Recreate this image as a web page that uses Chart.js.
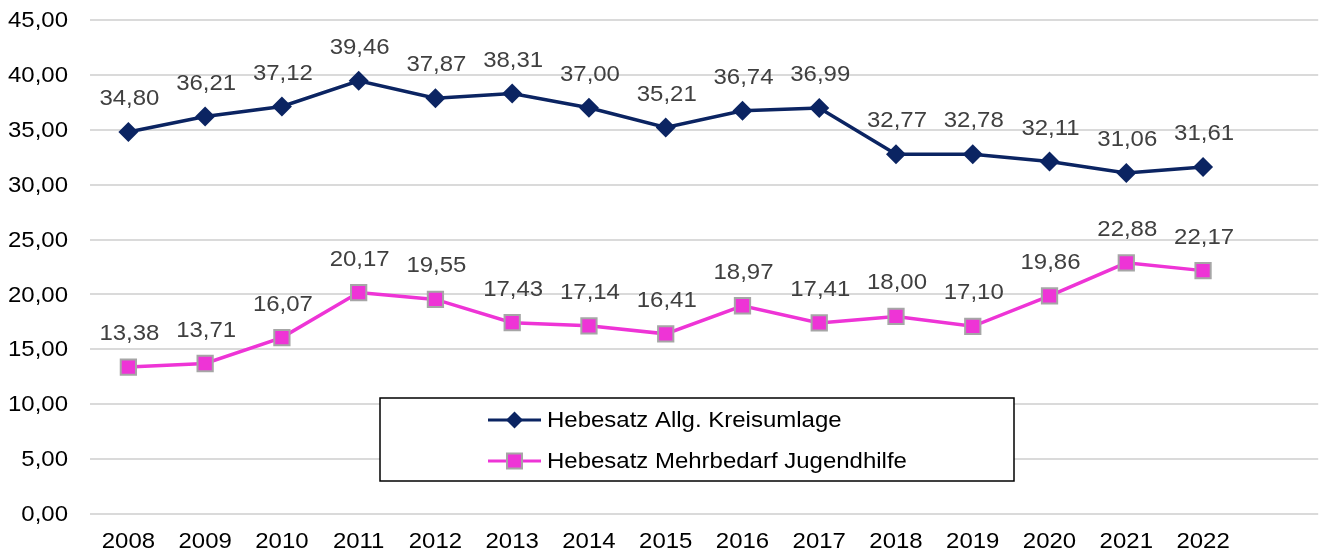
<!DOCTYPE html>
<html>
<head>
<meta charset="utf-8">
<script src="https://cdn.jsdelivr.net/npm/chart.js@4/dist/chart.umd.min.js"></script>
<style>
html,body{margin:0;padding:0;background:#fff;}
#wrap{width:1331px;height:556px;}
</style>
</head>
<body>
<div id="wrap"><canvas id="c" width="1331" height="556"></canvas></div>
<script>
const years = ['2008','2009','2010','2011','2012','2013','2014','2015','2016','2017','2018','2019','2020','2021','2022'];
const kreisumlage = [34.80, 36.21, 37.12, 39.46, 37.87, 38.31, 37.00, 35.21, 36.74, 36.99, 32.77, 32.78, 32.11, 31.06, 31.61];
const jugendhilfe = [13.38, 13.71, 16.07, 20.17, 19.55, 17.43, 17.14, 16.41, 18.97, 17.41, 18.00, 17.10, 19.86, 22.88, 22.17];
const seriesNames = ['Hebesatz Allg. Kreisumlage', 'Hebesatz Mehrbedarf Jugendhilfe'];
const yTicks = [0, 5, 10, 15, 20, 25, 30, 35, 40, 45];

const FONT = '"Liberation Sans", Arial, sans-serif';
const SX = 1.09;
const fmt = v => v.toFixed(2).replace('.', ',');

function wideText(ctx, text, x, y, align) {
  ctx.save();
  ctx.translate(x, y);
  ctx.scale(SX, 1);
  ctx.textAlign = align;
  ctx.fillText(text, 0, 0);
  ctx.restore();
}

const axisText = {
  id: 'axisText',
  afterDraw(chart) {
    const ctx = chart.ctx;
    ctx.save();
    ctx.font = '22px ' + FONT;
    ctx.fillStyle = '#000';
    ctx.textBaseline = 'middle';
    const ys = chart.scales.y;
    yTicks.forEach(v => wideText(ctx, fmt(v), 68, ys.getPixelForValue(v) + 1, 'right'));
    const xs = chart.scales.x;
    years.forEach((lab, i) => wideText(ctx, lab, xs.getPixelForTick(i), 542, 'center'));
    ctx.restore();
  }
};

const dataLabels = {
  id: 'dataLabels',
  afterDatasetsDraw(chart) {
    const ctx = chart.ctx;
    ctx.save();
    ctx.font = '22px ' + FONT;
    ctx.fillStyle = '#404040';
    ctx.textBaseline = 'middle';
    chart.data.datasets.forEach((ds, i) => {
      const meta = chart.getDatasetMeta(i);
      meta.data.forEach((pt, j) => {
        const v = ds.data[j];
        if (v == null) return;
        wideText(ctx, fmt(v), pt.x + 1, pt.y - 33, 'center');
      });
    });
    ctx.restore();
  }
};

const boxLegend = {
  id: 'boxLegend',
  afterDraw(chart) {
    const ctx = chart.ctx;
    const bx = 380, by = 398, bw = 634, bh = 83;
    ctx.save();
    ctx.fillStyle = '#fff';
    ctx.fillRect(bx, by, bw, bh);
    ctx.strokeStyle = '#000';
    ctx.lineWidth = 1.5;
    ctx.strokeRect(bx, by, bw, bh);
    const rows = [420, 461];
    chart.data.datasets.forEach((ds, i) => {
      const y = rows[i];
      ctx.strokeStyle = ds.borderColor;
      ctx.lineWidth = 3;
      ctx.beginPath();
      ctx.moveTo(488, y);
      ctx.lineTo(541, y);
      ctx.stroke();
      const cx = 514.5;
      ctx.fillStyle = ds.pointBackgroundColor;
      if (ds.pointStyle === 'rectRot') {
        const r = 8.5;
        ctx.beginPath();
        ctx.moveTo(cx, y - r); ctx.lineTo(cx + r, y); ctx.lineTo(cx, y + r); ctx.lineTo(cx - r, y);
        ctx.closePath();
        ctx.fill();
      } else {
        const s = 7.5;
        ctx.fillRect(cx - s, y - s, 2 * s, 2 * s);
        ctx.strokeStyle = ds.pointBorderColor;
        ctx.lineWidth = 2;
        ctx.strokeRect(cx - s, y - s, 2 * s, 2 * s);
      }
      ctx.fillStyle = '#000';
      ctx.font = '22px ' + FONT;
      ctx.textBaseline = 'middle';
      wideText(ctx, ds.label, 547, y + 1, 'left');
    });
    ctx.restore();
  }
};

new Chart(document.getElementById('c'), {
  type: 'line',
  data: {
    labels: [...years, ''],
    datasets: [
      {
        label: seriesNames[0],
        data: kreisumlage,
        borderColor: '#0b2462',
        backgroundColor: '#0b2462',
        pointBackgroundColor: '#0b2462',
        pointBorderColor: '#0b2462',
        pointBorderWidth: 0,
        pointStyle: 'rectRot',
        pointRadius: 10,
        pointHoverRadius: 10,
        borderWidth: 3.5,
        tension: 0
      },
      {
        label: seriesNames[1],
        data: jugendhilfe,
        borderColor: '#ee34d6',
        backgroundColor: '#ee34d6',
        pointBackgroundColor: '#ee34d6',
        pointBorderColor: '#a6a6a6',
        pointBorderWidth: 2,
        pointStyle: 'rect',
        pointRadius: 10.8,
        pointHoverRadius: 10.8,
        borderWidth: 3.5,
        tension: 0
      }
    ]
  },
  options: {
    responsive: false,
    animation: false,
    events: [],
    layout: { padding: { top: 20, right: 9, left: 0, bottom: 0 } },
    plugins: { legend: { display: false }, tooltip: { enabled: false } },
    scales: {
      x: {
        offset: true,
        grid: { display: false, drawTicks: false },
        border: { display: false },
        ticks: { display: false, autoSkip: false },
        afterFit(s) { s.height = 42; }
      },
      y: {
        min: yTicks[0],
        max: yTicks[yTicks.length - 1],
        afterBuildTicks(s) { s.ticks = yTicks.map(v => ({ value: v })); },
        grid: { color: '#dadada', lineWidth: 2, drawTicks: false },
        border: { display: false },
        ticks: { display: false },
        afterFit(s) { s.width = 90; }
      }
    }
  },
  plugins: [dataLabels, boxLegend, axisText]
});
</script>
</body>
</html>
